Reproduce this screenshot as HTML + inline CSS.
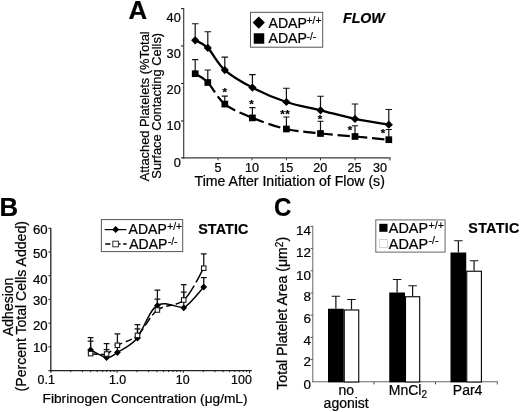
<!DOCTYPE html>
<html><head><meta charset="utf-8"><title>Figure</title>
<style>
html,body{margin:0;padding:0;background:#fff;}
body{width:520px;height:412px;overflow:hidden;}
svg{display:block;font-family:"Liberation Sans",sans-serif;fill:#000;}
text{stroke:#000;stroke-width:0.22px;}
</style></head><body>
<svg width="520" height="412" viewBox="0 0 520 412">
<rect width="520" height="412" fill="#fff"/>
<text x="128.60" y="18.80" font-size="25.8" text-anchor="start" font-weight="bold" font-style="normal" stroke="#000" stroke-width="0.4">A</text>
<path d="M183.7,8 V158.5" stroke="#3a3a3a" stroke-width="1.15" fill="none"/>
<path d="M183.1,157.9 H390 V160.5" stroke="#3a3a3a" stroke-width="1.15" fill="none"/>
<path d="M181,8.60 H183.7" stroke="#2a2a2a" stroke-width="1.15"/>
<path d="M181,46.00 H183.7" stroke="#2a2a2a" stroke-width="1.15"/>
<path d="M181,83.50 H183.7" stroke="#2a2a2a" stroke-width="1.15"/>
<path d="M181,121.00 H183.7" stroke="#2a2a2a" stroke-width="1.15"/>
<path d="M181,157.80 H183.7" stroke="#2a2a2a" stroke-width="1.15"/>
<path d="M218.00,157.9 V160.3" stroke="#3a3a3a" stroke-width="1"/>
<path d="M252.00,157.9 V160.3" stroke="#3a3a3a" stroke-width="1"/>
<path d="M286.50,157.9 V160.3" stroke="#3a3a3a" stroke-width="1"/>
<path d="M320.50,157.9 V160.3" stroke="#3a3a3a" stroke-width="1"/>
<path d="M355.00,157.9 V160.3" stroke="#3a3a3a" stroke-width="1"/>
<text x="180.80" y="22.10" font-size="13.6" text-anchor="end" font-weight="normal" font-style="normal" textLength="14.2" lengthAdjust="spacingAndGlyphs">40</text>
<text x="180.80" y="57.50" font-size="13.6" text-anchor="end" font-weight="normal" font-style="normal" textLength="14.2" lengthAdjust="spacingAndGlyphs">30</text>
<text x="180.80" y="93.80" font-size="13.6" text-anchor="end" font-weight="normal" font-style="normal" textLength="14.2" lengthAdjust="spacingAndGlyphs">20</text>
<text x="180.80" y="130.30" font-size="13.6" text-anchor="end" font-weight="normal" font-style="normal" textLength="14.2" lengthAdjust="spacingAndGlyphs">10</text>
<text x="180.80" y="167.00" font-size="13.6" text-anchor="end" font-weight="normal" font-style="normal" textLength="7.1" lengthAdjust="spacingAndGlyphs">0</text>
<text x="218.00" y="171.70" font-size="12.9" text-anchor="middle" font-weight="normal" font-style="normal" textLength="7.0" lengthAdjust="spacingAndGlyphs">5</text>
<text x="252.00" y="171.70" font-size="12.9" text-anchor="middle" font-weight="normal" font-style="normal" textLength="14.0" lengthAdjust="spacingAndGlyphs">10</text>
<text x="286.30" y="171.70" font-size="12.9" text-anchor="middle" font-weight="normal" font-style="normal" textLength="14.0" lengthAdjust="spacingAndGlyphs">15</text>
<text x="320.30" y="171.70" font-size="12.9" text-anchor="middle" font-weight="normal" font-style="normal" textLength="14.0" lengthAdjust="spacingAndGlyphs">20</text>
<text x="354.50" y="171.70" font-size="12.9" text-anchor="middle" font-weight="normal" font-style="normal" textLength="14.0" lengthAdjust="spacingAndGlyphs">25</text>
<text x="380.00" y="171.70" font-size="12.9" text-anchor="middle" font-weight="normal" font-style="normal" textLength="14.0" lengthAdjust="spacingAndGlyphs">30</text>
<text x="194.60" y="186.20" font-size="13.8" text-anchor="start" font-weight="normal" font-style="normal" textLength="190.3" lengthAdjust="spacingAndGlyphs">Time After Initiation of Flow (s)</text>
<text transform="translate(149.4,181.3) rotate(-90)" font-size="13.5" textLength="150" lengthAdjust="spacingAndGlyphs">Attached Platelets (%Total</text>
<text transform="translate(161.2,178.7) rotate(-90)" font-size="13.5" textLength="145.8" lengthAdjust="spacingAndGlyphs">Surface Contacting Cells)</text>
<rect x="250.5" y="12.3" width="72.2" height="34.9" fill="#fff" stroke="#555" stroke-width="1"/>
<path d="M258.80,16.50 L264.90,22.60 L258.80,28.70 L252.70,22.60Z" fill="#000"/>
<rect x="253.75" y="33.25" width="10.50" height="10.50" fill="#000"/>
<text x="268.5" y="27.7" font-size="14.1">ADAP<tspan dy="-3.3" dx="-0.3" font-size="10.3" stroke="#000" stroke-width="0.2">+/+</tspan></text>
<text x="268.5" y="42.8" font-size="14.1">ADAP<tspan dy="-3.3" dx="-0.3" font-size="10.3" stroke="#000" stroke-width="0.2">-/-</tspan></text>
<text x="343.00" y="23.00" font-size="14.2" text-anchor="start" font-weight="bold" font-style="italic">FLOW</text>
<path d="M195.20,40.30 V23.75 M191.90,23.75 H198.50" stroke="#111" stroke-width="1.2" fill="none"/>
<path d="M207.80,47.90 V31.75 M204.50,31.75 H211.10" stroke="#111" stroke-width="1.2" fill="none"/>
<path d="M224.80,70.10 V57.20 M221.50,57.20 H228.10" stroke="#111" stroke-width="1.2" fill="none"/>
<path d="M252.40,87.60 V74.70 M249.10,74.70 H255.70" stroke="#111" stroke-width="1.2" fill="none"/>
<path d="M286.40,102.00 V88.25 M283.10,88.25 H289.70" stroke="#111" stroke-width="1.2" fill="none"/>
<path d="M320.50,110.30 V96.25 M317.20,96.25 H323.80" stroke="#111" stroke-width="1.2" fill="none"/>
<path d="M355.00,118.90 V104.00 M351.70,104.00 H358.30" stroke="#111" stroke-width="1.2" fill="none"/>
<path d="M388.80,124.70 V109.50 M385.50,109.50 H392.10" stroke="#111" stroke-width="1.2" fill="none"/>
<path d="M195.20,73.70 V59.70 M192.10,59.70 H198.30" stroke="#111" stroke-width="1.2" fill="none"/>
<path d="M207.80,82.50 V70.00 M204.70,70.00 H210.90" stroke="#111" stroke-width="1.2" fill="none"/>
<path d="M224.80,104.10 V96.20 M221.70,96.20 H227.90" stroke="#111" stroke-width="1.2" fill="none"/>
<path d="M252.40,117.90 V107.70 M249.30,107.70 H255.50" stroke="#111" stroke-width="1.2" fill="none"/>
<path d="M286.40,129.00 V117.00 M283.30,117.00 H289.50" stroke="#111" stroke-width="1.2" fill="none"/>
<path d="M320.50,133.50 V121.25 M317.40,121.25 H323.60" stroke="#111" stroke-width="1.2" fill="none"/>
<path d="M355.00,136.50 V125.75 M351.90,125.75 H358.10" stroke="#111" stroke-width="1.2" fill="none"/>
<path d="M388.80,139.70 V129.50 M385.70,129.50 H391.90" stroke="#111" stroke-width="1.2" fill="none"/>
<path d="M195.20,40.30 C197.30,41.57 202.87,42.93 207.80,47.90 C212.73,52.87 217.37,63.48 224.80,70.10 C232.23,76.72 242.13,82.28 252.40,87.60 C262.67,92.92 275.05,98.22 286.40,102.00 C297.75,105.78 309.07,107.48 320.50,110.30 C331.93,113.12 343.62,116.50 355.00,118.90 C366.38,121.30 383.17,123.73 388.80,124.70" stroke="#000" stroke-width="2.25" fill="none"/>
<path d="M195.20,73.70 C197.30,75.17 202.87,77.43 207.80,82.50" stroke="#000" stroke-width="2.25" fill="none" stroke-dasharray="12.3 4.8"/>
<path d="M207.80,82.50 C212.73,87.57 217.37,98.20 224.80,104.10" stroke="#000" stroke-width="2.25" fill="none" stroke-dasharray="12.3 4.8"/>
<path d="M224.80,104.10 C232.23,110.00 242.13,113.75 252.40,117.90" stroke="#000" stroke-width="2.25" fill="none" stroke-dasharray="12.3 4.8"/>
<path d="M252.40,117.90 C262.67,122.05 275.05,126.40 286.40,129.00" stroke="#000" stroke-width="2.25" fill="none" stroke-dasharray="12.3 4.8"/>
<path d="M286.40,129.00 C297.75,131.60 309.07,132.25 320.50,133.50" stroke="#000" stroke-width="2.25" fill="none" stroke-dasharray="12.3 4.8"/>
<path d="M320.50,133.50 C331.93,134.75 343.62,135.47 355.00,136.50" stroke="#000" stroke-width="2.25" fill="none" stroke-dasharray="12.3 4.8"/>
<path d="M355.00,136.50 C366.38,137.53 383.17,139.17 388.80,139.70" stroke="#000" stroke-width="2.25" fill="none" stroke-dasharray="12.3 4.8"/>
<path d="M195.20,36.20 L199.30,40.30 L195.20,44.40 L191.10,40.30Z" fill="#000"/>
<path d="M207.80,43.80 L211.90,47.90 L207.80,52.00 L203.70,47.90Z" fill="#000"/>
<path d="M224.80,66.00 L228.90,70.10 L224.80,74.20 L220.70,70.10Z" fill="#000"/>
<path d="M252.40,83.50 L256.50,87.60 L252.40,91.70 L248.30,87.60Z" fill="#000"/>
<path d="M286.40,97.90 L290.50,102.00 L286.40,106.10 L282.30,102.00Z" fill="#000"/>
<path d="M320.50,106.20 L324.60,110.30 L320.50,114.40 L316.40,110.30Z" fill="#000"/>
<path d="M355.00,114.80 L359.10,118.90 L355.00,123.00 L350.90,118.90Z" fill="#000"/>
<path d="M388.80,120.60 L392.90,124.70 L388.80,128.80 L384.70,124.70Z" fill="#000"/>
<rect x="191.85" y="70.35" width="6.70" height="6.70" fill="#000"/>
<rect x="204.45" y="79.15" width="6.70" height="6.70" fill="#000"/>
<rect x="221.45" y="100.75" width="6.70" height="6.70" fill="#000"/>
<rect x="249.05" y="114.55" width="6.70" height="6.70" fill="#000"/>
<rect x="283.05" y="125.65" width="6.70" height="6.70" fill="#000"/>
<rect x="317.15" y="130.15" width="6.70" height="6.70" fill="#000"/>
<rect x="351.65" y="133.15" width="6.70" height="6.70" fill="#000"/>
<rect x="385.45" y="136.35" width="6.70" height="6.70" fill="#000"/>
<text x="224.80" y="96.40" font-size="11.5" text-anchor="middle" font-weight="bold" font-style="normal">*</text>
<text x="251.60" y="108.00" font-size="11.5" text-anchor="middle" font-weight="bold" font-style="normal">*</text>
<text x="282.60" y="118.00" font-size="11.5" text-anchor="middle" font-weight="bold" font-style="normal">*</text>
<text x="287.40" y="118.00" font-size="11.5" text-anchor="middle" font-weight="bold" font-style="normal">*</text>
<text x="320.00" y="123.00" font-size="11.5" text-anchor="middle" font-weight="bold" font-style="normal">*</text>
<text x="350.00" y="133.50" font-size="11.5" text-anchor="middle" font-weight="bold" font-style="normal">*</text>
<text x="383.00" y="136.50" font-size="11.5" text-anchor="middle" font-weight="bold" font-style="normal">*</text>
<text x="-0.50" y="216.10" font-size="25.8" text-anchor="start" font-weight="bold" font-style="normal" stroke="#000" stroke-width="0.4">B</text>
<path d="M50.8,228 V372" stroke="#222" stroke-width="1.3" fill="none"/>
<path d="M50.2,370.6 H251.8" stroke="#222" stroke-width="1.3" fill="none"/>
<path d="M48.4,370.60 H50.8" stroke="#333" stroke-width="1.15"/>
<path d="M48.4,346.88 H50.8" stroke="#333" stroke-width="1.15"/>
<path d="M48.4,323.16 H50.8" stroke="#333" stroke-width="1.15"/>
<path d="M48.4,299.44 H50.8" stroke="#333" stroke-width="1.15"/>
<path d="M48.4,275.72 H50.8" stroke="#333" stroke-width="1.15"/>
<path d="M48.4,252.00 H50.8" stroke="#333" stroke-width="1.15"/>
<path d="M48.4,228.28 H50.8" stroke="#333" stroke-width="1.15"/>
<text x="47.60" y="234.00" font-size="13.2" text-anchor="end" font-weight="normal" font-style="normal">60</text>
<text x="47.60" y="258.20" font-size="13.2" text-anchor="end" font-weight="normal" font-style="normal">50</text>
<text x="47.60" y="283.50" font-size="13.2" text-anchor="end" font-weight="normal" font-style="normal">40</text>
<text x="47.60" y="305.20" font-size="13.2" text-anchor="end" font-weight="normal" font-style="normal">30</text>
<text x="47.60" y="329.60" font-size="13.2" text-anchor="end" font-weight="normal" font-style="normal">20</text>
<text x="47.60" y="351.80" font-size="13.2" text-anchor="end" font-weight="normal" font-style="normal">10</text>
<path d="M50.80,370.6 V372.80" stroke="#222" stroke-width="1"/>
<path d="M70.74,370.6 V372.10" stroke="#222" stroke-width="1"/>
<path d="M82.41,370.6 V372.10" stroke="#222" stroke-width="1"/>
<path d="M90.69,370.6 V372.10" stroke="#222" stroke-width="1"/>
<path d="M97.11,370.6 V372.10" stroke="#222" stroke-width="1"/>
<path d="M102.35,370.6 V372.10" stroke="#222" stroke-width="1"/>
<path d="M106.79,370.6 V372.10" stroke="#222" stroke-width="1"/>
<path d="M110.63,370.6 V372.10" stroke="#222" stroke-width="1"/>
<path d="M114.02,370.6 V372.10" stroke="#222" stroke-width="1"/>
<path d="M117.05,370.6 V372.80" stroke="#222" stroke-width="1"/>
<path d="M136.99,370.6 V372.10" stroke="#222" stroke-width="1"/>
<path d="M148.66,370.6 V372.10" stroke="#222" stroke-width="1"/>
<path d="M156.94,370.6 V372.10" stroke="#222" stroke-width="1"/>
<path d="M163.36,370.6 V372.10" stroke="#222" stroke-width="1"/>
<path d="M168.60,370.6 V372.10" stroke="#222" stroke-width="1"/>
<path d="M173.04,370.6 V372.10" stroke="#222" stroke-width="1"/>
<path d="M176.88,370.6 V372.10" stroke="#222" stroke-width="1"/>
<path d="M180.27,370.6 V372.10" stroke="#222" stroke-width="1"/>
<path d="M183.30,370.6 V372.80" stroke="#222" stroke-width="1"/>
<path d="M203.24,370.6 V372.10" stroke="#222" stroke-width="1"/>
<path d="M214.91,370.6 V372.10" stroke="#222" stroke-width="1"/>
<path d="M223.19,370.6 V372.10" stroke="#222" stroke-width="1"/>
<path d="M229.61,370.6 V372.10" stroke="#222" stroke-width="1"/>
<path d="M234.85,370.6 V372.10" stroke="#222" stroke-width="1"/>
<path d="M239.29,370.6 V372.10" stroke="#222" stroke-width="1"/>
<path d="M243.13,370.6 V372.10" stroke="#222" stroke-width="1"/>
<path d="M246.52,370.6 V372.10" stroke="#222" stroke-width="1"/>
<path d="M249.55,370.6 V373.4" stroke="#222" stroke-width="1"/>
<text x="46.20" y="384.10" font-size="12.4" text-anchor="middle" font-weight="normal" font-style="normal">0.1</text>
<text x="117.60" y="384.10" font-size="12.4" text-anchor="middle" font-weight="normal" font-style="normal">1.0</text>
<text x="182.70" y="384.10" font-size="12.4" text-anchor="middle" font-weight="normal" font-style="normal">10</text>
<text x="251.80" y="384.10" font-size="12.4" text-anchor="end" font-weight="normal" font-style="normal">100</text>
<text x="42.6" y="403.2" font-size="13.7">Fibrinogen Concentration (μg/mL)</text>
<text transform="translate(12.5,336) rotate(-90)" font-size="14">Adhesion</text>
<text transform="translate(25.8,391.4) rotate(-90)" font-size="14" textLength="170.3" lengthAdjust="spacingAndGlyphs">(Percent Total Cells Added)</text>
<rect x="101.4" y="219.6" width="81.3" height="32" fill="#fff" stroke="#555" stroke-width="1"/>
<path d="M104.7,229.6 H126.4" stroke="#000" stroke-width="1.25"/>
<path d="M115.70,226.10 L119.20,229.60 L115.70,233.10 L112.20,229.60Z" fill="#000"/>
<path d="M105.2,244 H110.3 M119,244 H120.6 M123.2,244 H126.7" stroke="#000" stroke-width="1.4"/>
<rect x="112.80" y="241.20" width="5.60" height="5.60" fill="#fff" stroke="#333" stroke-width="1"/>
<text x="128.6" y="233.5" font-size="14">ADAP<tspan dy="-3.3" dx="0.5" font-size="10.3" stroke="#000" stroke-width="0.2">+/+</tspan></text>
<text x="129.2" y="248.5" font-size="14">ADAP<tspan dy="-3.3" dx="0.5" font-size="10.3" stroke="#000" stroke-width="0.2">-/-</tspan></text>
<text x="198.20" y="233.60" font-size="14.3" text-anchor="start" font-weight="bold" font-style="normal" letter-spacing="0.15">STATIC</text>
<path d="M90.60,349.90 V337.60 M87.70,337.60 H93.50" stroke="#111" stroke-width="1.25" fill="none"/>
<path d="M106.60,357.50 V349.60 M103.70,349.60 H109.50" stroke="#111" stroke-width="1.25" fill="none"/>
<path d="M117.40,352.50 V345.00 M114.50,345.00 H120.30" stroke="#111" stroke-width="1.25" fill="none"/>
<path d="M137.50,338.00 V328.80 M134.60,328.80 H140.40" stroke="#111" stroke-width="1.25" fill="none"/>
<path d="M157.40,305.60 V290.00 M154.50,290.00 H160.30" stroke="#111" stroke-width="1.25" fill="none"/>
<path d="M183.75,307.80 V292.20 M180.85,292.20 H186.65" stroke="#111" stroke-width="1.25" fill="none"/>
<path d="M203.75,287.00 V277.70 M200.85,277.70 H206.65" stroke="#111" stroke-width="1.25" fill="none"/>
<path d="M90.60,353.60 V341.20 M87.70,341.20 H93.50" stroke="#111" stroke-width="1.25" fill="none"/>
<path d="M106.60,354.00 V343.70 M103.70,343.70 H109.50" stroke="#111" stroke-width="1.25" fill="none"/>
<path d="M117.40,345.30 V333.90 M114.50,333.90 H120.30" stroke="#111" stroke-width="1.25" fill="none"/>
<path d="M137.50,335.40 V324.50 M134.60,324.50 H140.40" stroke="#111" stroke-width="1.25" fill="none"/>
<path d="M157.40,310.00 V299.10 M154.50,299.10 H160.30" stroke="#111" stroke-width="1.25" fill="none"/>
<path d="M183.75,300.00 V284.50 M180.85,284.50 H186.65" stroke="#111" stroke-width="1.25" fill="none"/>
<path d="M203.75,268.20 V253.75 M200.85,253.75 H206.65" stroke="#111" stroke-width="1.25" fill="none"/>
<path d="M90.60,349.90 C93.27,351.17 102.13,357.07 106.60,357.50" stroke="#000" stroke-width="1.45" fill="none" stroke-linecap="round"/>
<path d="M106.60,357.50 C111.07,357.93 112.25,355.75 117.40,352.50" stroke="#000" stroke-width="1.45" fill="none" stroke-linecap="round"/>
<path d="M117.40,352.50 C122.55,349.25 130.83,345.82 137.50,338.00" stroke="#000" stroke-width="1.45" fill="none" stroke-linecap="round"/>
<path d="M137.5,338 C145.5,324 151.5,307 157.4,305.6" stroke="#000" stroke-width="1.45" fill="none" stroke-linecap="round"/>
<path d="M157.4,305.6 C163.4,300.6 175.7,307.2 183.75,307.8" stroke="#000" stroke-width="1.45" fill="none" stroke-linecap="round"/>
<path d="M183.75,307.8 C190.5,303.8 200.4,290.5 203.75,287" stroke="#000" stroke-width="1.45" fill="none" stroke-linecap="round"/>
<path d="M90.60,353.60 C93.27,353.67 102.13,355.38 106.60,354.00" stroke="#000" stroke-width="1.45" fill="none" stroke-dasharray="7 3 20"/>
<path d="M106.60,354.00 C111.07,352.62 112.25,348.40 117.40,345.30" stroke="#000" stroke-width="1.45" fill="none" stroke-dasharray="5.5 30"/>
<path d="M117.40,345.30 C122.55,342.20 130.83,341.28 137.50,335.40" stroke="#000" stroke-width="1.45" fill="none" stroke-dasharray="5.2 4 6.5 3.5 20"/>
<path d="M137.50,335.40 C144.17,329.52 149.69,315.90 157.40,310.00" stroke="#000" stroke-width="1.45" fill="none" stroke-dasharray="9 3.5 9 3.5 20"/>
<path d="M157.40,310.00 C165.11,304.10 176.03,306.97 183.75,300.00" stroke="#000" stroke-width="1.45" fill="none" stroke-dasharray="6.1 3.6 5.8 3.8 20"/>
<path d="M183.75,300.00 C191.47,293.03 200.42,273.50 203.75,268.20" stroke="#000" stroke-width="1.45" fill="none" stroke-dasharray="17.9 3.5 30"/>
<path d="M90.60,346.50 L94.00,349.90 L90.60,353.30 L87.20,349.90Z" fill="#000"/>
<path d="M106.60,354.10 L110.00,357.50 L106.60,360.90 L103.20,357.50Z" fill="#000"/>
<path d="M117.40,349.10 L120.80,352.50 L117.40,355.90 L114.00,352.50Z" fill="#000"/>
<path d="M137.50,334.60 L140.90,338.00 L137.50,341.40 L134.10,338.00Z" fill="#000"/>
<path d="M157.40,302.20 L160.80,305.60 L157.40,309.00 L154.00,305.60Z" fill="#000"/>
<path d="M183.75,304.40 L187.15,307.80 L183.75,311.20 L180.35,307.80Z" fill="#000"/>
<path d="M203.75,283.60 L207.15,287.00 L203.75,290.40 L200.35,287.00Z" fill="#000"/>
<rect x="88.35" y="351.35" width="4.50" height="4.50" fill="#fff" stroke="#111" stroke-width="1.05"/>
<rect x="104.35" y="351.75" width="4.50" height="4.50" fill="#fff" stroke="#111" stroke-width="1.05"/>
<rect x="115.15" y="343.05" width="4.50" height="4.50" fill="#fff" stroke="#111" stroke-width="1.05"/>
<rect x="135.25" y="333.15" width="4.50" height="4.50" fill="#fff" stroke="#111" stroke-width="1.05"/>
<rect x="155.15" y="307.75" width="4.50" height="4.50" fill="#fff" stroke="#111" stroke-width="1.05"/>
<rect x="181.50" y="297.75" width="4.50" height="4.50" fill="#fff" stroke="#111" stroke-width="1.05"/>
<rect x="201.50" y="265.95" width="4.50" height="4.50" fill="#fff" stroke="#111" stroke-width="1.05"/>
<text x="274.00" y="216.20" font-size="25" text-anchor="start" font-weight="bold" font-style="normal" stroke="#000" stroke-width="0.5" textLength="17.4" lengthAdjust="spacingAndGlyphs">C</text>
<path d="M312.8,225.8 V382.3" stroke="#666" stroke-width="1" fill="none"/>
<path d="M312.3,381.8 H497.3 V384.4" stroke="#666" stroke-width="1.1" fill="none"/>
<path d="M310.6,359.60 H312.8" stroke="#555" stroke-width="1"/>
<path d="M310.6,337.40 H312.8" stroke="#555" stroke-width="1"/>
<path d="M310.6,315.20 H312.8" stroke="#555" stroke-width="1"/>
<path d="M310.6,293.00 H312.8" stroke="#555" stroke-width="1"/>
<path d="M310.6,270.80 H312.8" stroke="#555" stroke-width="1"/>
<path d="M310.6,248.60 H312.8" stroke="#555" stroke-width="1"/>
<path d="M310.6,226.40 H312.8" stroke="#555" stroke-width="1"/>
<path d="M374.00,382 V384.4" stroke="#444" stroke-width="1"/>
<path d="M435.50,382 V384.4" stroke="#444" stroke-width="1"/>
<text x="310.90" y="235.30" font-size="13.4" text-anchor="end" font-weight="normal" font-style="normal">14</text>
<text x="310.90" y="257.40" font-size="13.4" text-anchor="end" font-weight="normal" font-style="normal">12</text>
<text x="310.90" y="279.50" font-size="13.4" text-anchor="end" font-weight="normal" font-style="normal">10</text>
<text x="310.90" y="301.20" font-size="13.4" text-anchor="end" font-weight="normal" font-style="normal">8</text>
<text x="310.90" y="323.20" font-size="13.4" text-anchor="end" font-weight="normal" font-style="normal">6</text>
<text x="310.90" y="344.90" font-size="13.4" text-anchor="end" font-weight="normal" font-style="normal">4</text>
<text x="310.90" y="366.30" font-size="13.4" text-anchor="end" font-weight="normal" font-style="normal">2</text>
<text x="310.90" y="388.80" font-size="13.4" text-anchor="end" font-weight="normal" font-style="normal">0</text>
<text transform="translate(287.2,389.7) rotate(-90)" font-size="14.15">Total Platelet Area (μm<tspan dy="-4" font-size="10">2</tspan><tspan dy="4">)</tspan></text>
<rect x="375.8" y="219.9" width="69.3" height="32.2" fill="#fff" stroke="#666" stroke-width="1"/>
<rect x="379.3" y="223.8" width="8.2" height="8" fill="#000"/>
<rect x="379.6" y="239.6" width="7.8" height="8" fill="#fff" stroke="#c8c8c8" stroke-width="0.8"/>
<text x="388.8" y="233.2" font-size="14.4">ADAP<tspan dy="-4.2" dx="0.5" font-size="10.6" stroke="#000" stroke-width="0.2">+/+</tspan></text>
<text x="388.8" y="248.6" font-size="14.4">ADAP<tspan dy="-4.2" dx="0.5" font-size="10.6" stroke="#000" stroke-width="0.2">-/-</tspan></text>
<text x="468.30" y="233.30" font-size="14.3" text-anchor="start" font-weight="bold" font-style="normal" letter-spacing="0.3">STATIC</text>
<path d="M335.88,308.75 V296.25 M331.62,296.25 H340.12" stroke="#111" stroke-width="1.2" fill="none"/>
<rect x="328.00" y="308.75" width="15.75" height="73.55" fill="#000"/>
<path d="M351.50,309.50 V299.50 M347.25,299.50 H355.75" stroke="#111" stroke-width="1.2" fill="none"/>
<rect x="344.25" y="310.00" width="14.50" height="72.00" fill="#fff" stroke="#000" stroke-width="1.1"/>
<path d="M397.12,292.50 V279.50 M392.88,279.50 H401.38" stroke="#111" stroke-width="1.2" fill="none"/>
<rect x="389.25" y="292.50" width="15.75" height="89.80" fill="#000"/>
<path d="M412.60,296.25 V285.75 M408.35,285.75 H416.85" stroke="#111" stroke-width="1.2" fill="none"/>
<rect x="405.50" y="296.75" width="14.20" height="85.25" fill="#fff" stroke="#000" stroke-width="1.1"/>
<path d="M458.38,252.50 V240.75 M454.12,240.75 H462.62" stroke="#111" stroke-width="1.2" fill="none"/>
<rect x="450.50" y="252.50" width="15.75" height="129.80" fill="#000"/>
<path d="M474.07,270.75 V260.75 M469.82,260.75 H478.32" stroke="#111" stroke-width="1.2" fill="none"/>
<rect x="466.75" y="271.25" width="14.65" height="110.75" fill="#fff" stroke="#000" stroke-width="1.1"/>
<text x="346.20" y="394.80" font-size="14" text-anchor="middle" font-weight="normal" font-style="normal">no</text>
<text x="346.20" y="407.60" font-size="14" text-anchor="middle" font-weight="normal" font-style="normal">agonist</text>
<text x="388.8" y="394.8" font-size="14">MnCl<tspan dy="3.5" font-size="10">2</tspan></text>
<text x="452.80" y="394.80" font-size="14" text-anchor="start" font-weight="normal" font-style="normal">Par4</text>
</svg>
</body></html>
